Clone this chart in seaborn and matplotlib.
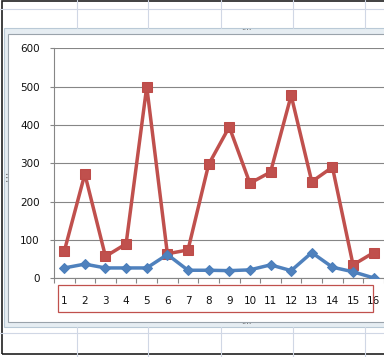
import matplotlib
matplotlib.use("Agg")
import matplotlib.pyplot as plt
from matplotlib.patches import Rectangle
from matplotlib.lines import Line2D
import seaborn as sns
import pandas as pd

# data
categories = list(range(1, 17))
series1 = [27, 37, 27, 27, 27, 62, 21, 21, 20, 22, 35, 20, 67, 29, 17, 1]
series2 = [70, 272, 57, 90, 500, 64, 74, 297, 395, 248, 277, 477, 252, 290, 35, 67]
y_ticks = [0, 100, 200, 300, 400, 500, 600]

W, H = 384, 357

df = pd.DataFrame({
    "x": categories * 2,
    "value": series1 + series2,
    "series": ["Series1"] * 16 + ["Series2"] * 16,
})

sns.set_style("white")
plt.rcParams["font.family"] = ["DejaVu Sans"]

fig = plt.figure(figsize=(W / 100, H / 100), dpi=100)
fig.patch.set_facecolor("white")


def fx(x):
    return x / W


def fy(y):
    return 1 - y / H


# spreadsheet background, only where the chart doesn't cover it
grid_col = "#d0d7e5"
for x in [77, 148, 221, 293, 365]:
    for y0, y1 in [(0, 28), (327, 357)]:
        fig.add_artist(Line2D([fx(x), fx(x)], [fy(y0), fy(y1)], color=grid_col, lw=0.8))
for y in [9, 333]:
    fig.add_artist(Line2D([0, 1], [fy(y), fy(y)], color=grid_col, lw=0.8))
# screenshot border
fig.add_artist(Rectangle((fx(1.5), fy(354)), 1.2, fy(1) - fy(354), fill=False,
                         edgecolor="#202020", lw=1.2))

# chart frame (selected chart in Excel)
fig.add_artist(Rectangle((fx(4), fy(327)), 1.1, fy(28) - fy(327), facecolor="#e6edf2",
                         edgecolor="#b9c9d6", lw=0.8))
fig.add_artist(Rectangle((fx(8), fy(322)), 1.1, fy(34) - fy(322), facecolor="white",
                         edgecolor="#9aa3ab", lw=0.8))
for (x, y) in [(246, 30.5), (246, 324.5)]:
    fig.text(fx(x), fy(y), "····", color="#404040", fontsize=6, ha="center", va="center")
fig.text(fx(6), fy(178), "⋮", color="#404040", fontsize=7, ha="center", va="center")

# plot area
left, right, top, bottom = 53.9, 384, 48.3, 278.3
ax = fig.add_axes([fx(left), fy(bottom), fx(right - left), fy(top) - fy(bottom)])
ax.set_facecolor("none")
ax.set_zorder(3)

sns.lineplot(data=df[df.series == "Series1"], x="x", y="value", ax=ax, color="#4f81bd",
             marker="D", markersize=5.5, markeredgecolor="#4a7ebb", linewidth=2.5, zorder=3)
sns.lineplot(data=df[df.series == "Series2"], x="x", y="value", ax=ax, color="#c0504d",
             marker="s", markersize=6.8, markeredgecolor="#be4b48", linewidth=2.5, zorder=2)

ax.set_xlim(0.5, 16.5)
ax.set_ylim(0, 600)
ax.set_yticks(y_ticks)
ax.set_xticks(categories)
ax.set_xticks([c + 0.5 for c in [0] + categories], minor=True)
ax.yaxis.grid(True, color="#868686", lw=0.8)
ax.set_axisbelow(True)
ax.set_xlabel("")
ax.set_ylabel("")

for s in ["top", "right"]:
    ax.spines[s].set_visible(False)
for s in ["left", "bottom"]:
    ax.spines[s].set_color("#868686")
    ax.spines[s].set_linewidth(0.8)

ax.tick_params(axis="y", length=2.8, width=0.8, color="#868686", pad=7.5,
               labelsize=7.5, labelcolor="#111111", left=True)
ax.tick_params(axis="x", which="major", length=0, pad=12.5, labelsize=7.5,
               labelcolor="#111111")
ax.tick_params(axis="x", which="minor", length=3.5, width=0.8, color="#868686", bottom=True)

# red box around category labels
fig.add_artist(Rectangle((fx(58.3), fy(311.7)), fx(373.3 - 58.3), fy(285) - fy(311.7),
                         fill=False, edgecolor="#c0504d", lw=0.9, zorder=5))

fig.savefig("out.png", dpi=100)
